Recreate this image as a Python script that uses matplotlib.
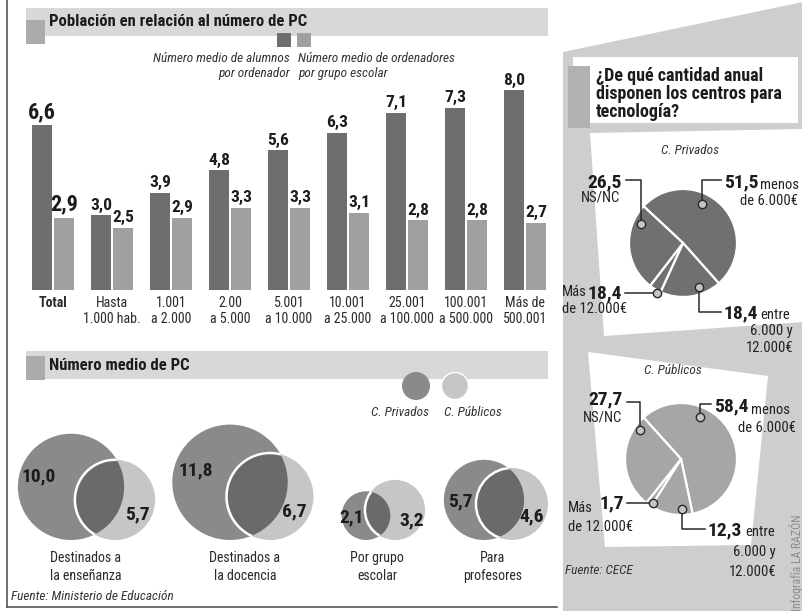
import matplotlib
matplotlib.use('Agg')
import matplotlib.pyplot as plt
from matplotlib import font_manager
from matplotlib.patches import Rectangle, Polygon, Circle
import numpy as np

# ---- data ----
grupos = ['Total', 'Hasta\n1.000 hab.', '1.001\na 2.000', '2.00\na 5.000', '5.001\na 10.000',
          '10.001\na 25.000', '25.001\na 100.000', '100.001\na 500.000', 'Más de\n500.001']
alumnos = [6.6, 3.0, 3.9, 4.8, 5.6, 6.3, 7.1, 7.3, 8.0]          # alumnos por ordenador
ordenadores = [2.9, 2.5, 2.9, 3.3, 3.3, 3.1, 2.8, 2.8, 2.7]      # ordenadores por grupo

venn_cat = ['Destinados a\nla enseñanza', 'Destinados a\nla docencia', 'Por grupo\nescolar', 'Para\nprofesores']
pc_privados = [10.0, 11.8, 2.1, 5.7]
pc_publicos = [5.7, 6.7, 3.2, 4.6]

# menos de 6.000 / entre 6.000 y 12.000 / mas de 12.000 / NS-NC
priv_pct = [51.5, 18.4, 3.6, 26.5]   # wedge drawn as 3.6 (rest to 100), printed 18,4 in the original
priv_txt = ['51,5', '18,4', '18,4', '26,5']
pub_pct = [58.4, 12.3, 1.7, 27.7]
pub_txt = ['58,4', '12,3', '1,7', '27,7']

W, H = 803, 611
fig = plt.figure(figsize=(W/100, H/100), dpi=100)

have = {f.name for f in font_manager.fontManager.ttflist}
narrow = next((n for n in ['Liberation Sans Narrow', 'Roboto Condensed'] if n in have), 'DejaVu Sans')
k = 1.0 if narrow != 'DejaVu Sans' else 0.82
plt.rcParams['font.family'] = [narrow, 'DejaVu Sans']
ink = '#1c1c1c'
dark, light = '#6e6e6e', '#a0a0a0'

def box(l, t, w, h):
    return [l/W, 1-(t+h)/H, w/W, h/H]

def num(v):
    return ('%.1f' % v).replace('.', ',')

bg = fig.add_axes([0, 0, 1, 1])
bg.set_xlim(0, W); bg.set_ylim(H, 0); bg.axis('off')

# frame of left block
bg.plot([7, 7], [0, 607], color='#555555', lw=1.2)
bg.plot([7, 557], [607, 607], color='#555555', lw=1.2)

# title bands
for top_y, sq_y, title in [(8, 20, 'Población en relación al número de PC'),
                           (351, 356, 'Número medio de PC')]:
    bg.add_patch(Rectangle((26, top_y), 522, 28, color='#d8d8d8', lw=0))
    bg.add_patch(Rectangle((26, sq_y), 19, 24, color='#ababab', lw=0))
    bg.text(49, top_y + 14, title, fontsize=12*k, fontweight='bold', color=ink, va='center', ha='left')

# legend bars
bg.add_patch(Rectangle((277, 33), 14, 14, color=dark, lw=0))
bg.add_patch(Rectangle((297, 33), 14, 14, color=light, lw=0))
bg.text(290, 66, 'Número medio de alumnos\npor ordenador', ha='right', va='center', ma='right',
        fontsize=9.5*k, style='italic', color='#333333', linespacing=1.25)
bg.text(298, 66, 'Número medio de ordenadores\npor grupo escolar', ha='left', va='center', ma='left',
        fontsize=9.5*k, style='italic', color='#333333', linespacing=1.25)

# ---- bar chart ----
axb = fig.add_axes(box(23, 80, 532, 210))
axb.patch.set_alpha(0)
x = np.arange(len(grupos))
bw, off = 20/59, 11/59
axb.bar(x - off, alumnos, width=bw, color=dark)
axb.bar(x + off, ordenadores, width=bw, color=light)
axb.set_xlim(-30/59, 502/59)
axb.set_ylim(0, 8.4)
for s in axb.spines.values():
    s.set_visible(False)
axb.set_yticks([])
axb.set_xticks(x, grupos)
axb.tick_params(axis='x', length=0, pad=4, labelsize=10*k, labelcolor='#2a2a2a')
axb.get_xticklabels()[0].set_fontweight('bold')
for i in range(len(grupos)):
    big = (i == 0)
    for xx, v in [(x[i] - off, alumnos[i]), (x[i] + off, ordenadores[i])]:
        axb.annotate(num(v), (xx, v), xytext=(0, 1.5), textcoords='offset points', ha='center',
                     va='bottom', fontsize=(16 if big else 12.5)*k, fontweight='bold', color=ink)

# ---- venn circles ----
col_priv, col_pub, col_both = '#8a8a8a', '#c6c6c6', '#6a6a6a'
venn_x = [71, 230, 366, 484]     # centre of private circle (px)
venn_dx = [44, 40, 29, 28]       # shift of public circle
cat_x = [86, 245, 377, 493]
base_y = 540
for i in range(4):
    r1 = 16.8*np.sqrt(pc_privados[i])
    r2 = 16.8*np.sqrt(pc_publicos[i])
    c1 = (venn_x[i], base_y - r1)
    c2 = (venn_x[i] + venn_dx[i], base_y - r2)
    p1 = Circle(c1, r1, color=col_priv, lw=0)
    p2 = Circle(c2, r2, color=col_pub, lw=0)
    bg.add_patch(p1); bg.add_patch(p2)
    ov = Circle(c1, r1, color=col_both, lw=0)
    bg.add_patch(ov); ov.set_clip_path(p2)
    edge = Circle(c2, r2, fill=False, edgecolor='white', lw=1.8)
    bg.add_patch(edge); edge.set_clip_path(p1)
    bg.text(c1[0] - 0.6*r1, c1[1] - 0.2*r1 if r1 > 45 else c1[1] + 2, num(pc_privados[i]),
            ha='center', va='center', fontsize=14*k, fontweight='bold', color=ink)
    bg.text(c2[0] + 0.55*r2, c2[1] + 0.35*r2, num(pc_publicos[i]),
            ha='center', va='center', fontsize=14*k, fontweight='bold', color=ink)
    bg.text(cat_x[i], 567, venn_cat[i], ha='center', va='center',
            fontsize=10*k, color='#2a2a2a', linespacing=1.3)

bg.add_patch(Circle((416, 386), 14, color=col_priv, lw=0))
bg.add_patch(Circle((455, 386), 13.5, color=col_pub, ec='white', lw=1))
bg.text(400, 412, 'C. Privados', ha='center', va='center', fontsize=9.5*k, style='italic', color='#333333')
bg.text(473, 412, 'C. Públicos', ha='center', va='center', fontsize=9.5*k, style='italic', color='#333333')
bg.text(11, 596, 'Fuente: Ministerio de Educación', ha='left', va='center', fontsize=9.5*k,
        style='italic', color='#333333')

# ---- right panel ----
bg.add_patch(Polygon([(563, 52), (803, 2), (803, 611), (563, 611)], color='#cecece', lw=0))
bg.add_patch(Polygon([(590, 133), (803, 129), (803, 322), (604, 336)], color='white', lw=0))
bg.add_patch(Polygon([(588, 352), (768, 376), (751, 545), (605, 547)], color='white', lw=0))
bg.add_patch(Rectangle((573, 57), 225, 66, color='white', lw=0))
bg.add_patch(Rectangle((568, 66), 22, 62, color='#b2b2b2', lw=0))
bg.text(596, 94, '¿De qué cantidad anual\ndisponen los centros para\ntecnología?', ha='left',
        va='center', fontsize=13*k, fontweight='bold', color=ink, linespacing=1.0)
bg.text(690, 150, 'C. Privados', ha='center', va='center', fontsize=9.5*k, style='italic', color='#333333')
bg.text(673, 370, 'C. Públicos', ha='center', va='center', fontsize=9.5*k, style='italic', color='#333333')
bg.text(565, 571, 'Fuente: CECE', ha='left', va='center', fontsize=9.5*k, style='italic', color='#333333')
bg.text(797, 611, 'Infografía LA RAZÓN', rotation=90, ha='center', va='bottom', fontsize=8.5*k,
        color='#8c8c8c')

pies = [((683, 243), 54, priv_pct, '#707070', 137),
        ((681, 459), 56, pub_pct, '#a6a6a6', 132)]
for (cx, cy), r, vals, col, start in pies:
    axp = fig.add_axes(box(cx - r, cy - r, 2*r, 2*r))
    axp.pie(vals, colors=[col]*len(vals), startangle=start, counterclock=False,
            wedgeprops=dict(edgecolor='white', linewidth=1.6))
    axp.set_xlim(-1, 1); axp.set_ylim(-1, 1); axp.set_aspect('equal'); axp.axis('off')

# pie call-outs (layout only)
top = fig.add_axes([0, 0, 1, 1], zorder=5)
top.set_xlim(0, W); top.set_ylim(H, 0); top.axis('off'); top.patch.set_alpha(0)

callouts = [
    # priv
    dict(mk=(702, 204), path=[(702, 180), (721, 180)], n=(724, 182, 'left'), t=priv_txt[0],
         extra=[('menos', 760, 185, 'left'), ('de 6.000€', 798, 201, 'right')]),
    dict(mk=(699, 287), path=[(699, 312), (721, 312)], n=(724, 313, 'left'), t=priv_txt[1],
         extra=[('entre', 760, 315, 'left'), ('6.000 y', 793, 331, 'right'), ('12.000€', 793, 348, 'right')]),
    dict(mk=(657, 293), path=[(625, 293)], n=(622, 293, 'right'), t=priv_txt[2],
         extra=[('Más', 562, 292, 'left'), ('de 12.000€', 562, 309, 'left')]),
    dict(mk=(641, 224), path=[(641, 180), (626, 180)], n=(622, 182, 'right'), t=priv_txt[3],
         extra=[('NS/NC', 620, 198, 'right')]),
    # pub
    dict(mk=(700, 417), path=[(700, 404), (711, 404)], n=(714, 406, 'left'), t=pub_txt[0],
         extra=[('menos', 751, 410, 'left'), ('de 6.000€', 796, 428, 'right')]),
    dict(mk=(682, 509), path=[(682, 529), (705, 529)], n=(708, 530, 'left'), t=pub_txt[1],
         extra=[('entre', 745, 532, 'left'), ('6.000 y', 776, 552, 'right'), ('12.000€', 776, 572, 'right')]),
    dict(mk=(653, 503), path=[(627, 503)], n=(624, 503, 'right'), t=pub_txt[2],
         extra=[('Más', 568, 508, 'left'), ('de 12.000€', 568, 527, 'left')]),
    dict(mk=(640, 430), path=[(640, 402), (627, 402)], n=(623, 399, 'right'), t=pub_txt[3],
         extra=[('NS/NC', 622, 418, 'right')]),
]
for c in callouts:
    mx, my = c['mk']
    px = [mx] + [p[0] for p in c['path']]
    py = [my] + [p[1] for p in c['path']]
    top.plot(px, py, color='#2a2a2a', lw=1.1)
    top.plot([mx], [my], 'o', ms=6, mfc='#c4c4c4', mec='#2a2a2a', mew=1)
    nx, ny, ha = c['n']
    top.text(nx, ny, c['t'], ha=ha, va='center', fontsize=14*k, fontweight='bold', color=ink)
    for t, tx, ty, tha in c['extra']:
        top.text(tx, ty, t, ha=tha, va='center', fontsize=10.5*k, color='#222222')

plt.savefig('out.png', dpi=100)
plt.close()
